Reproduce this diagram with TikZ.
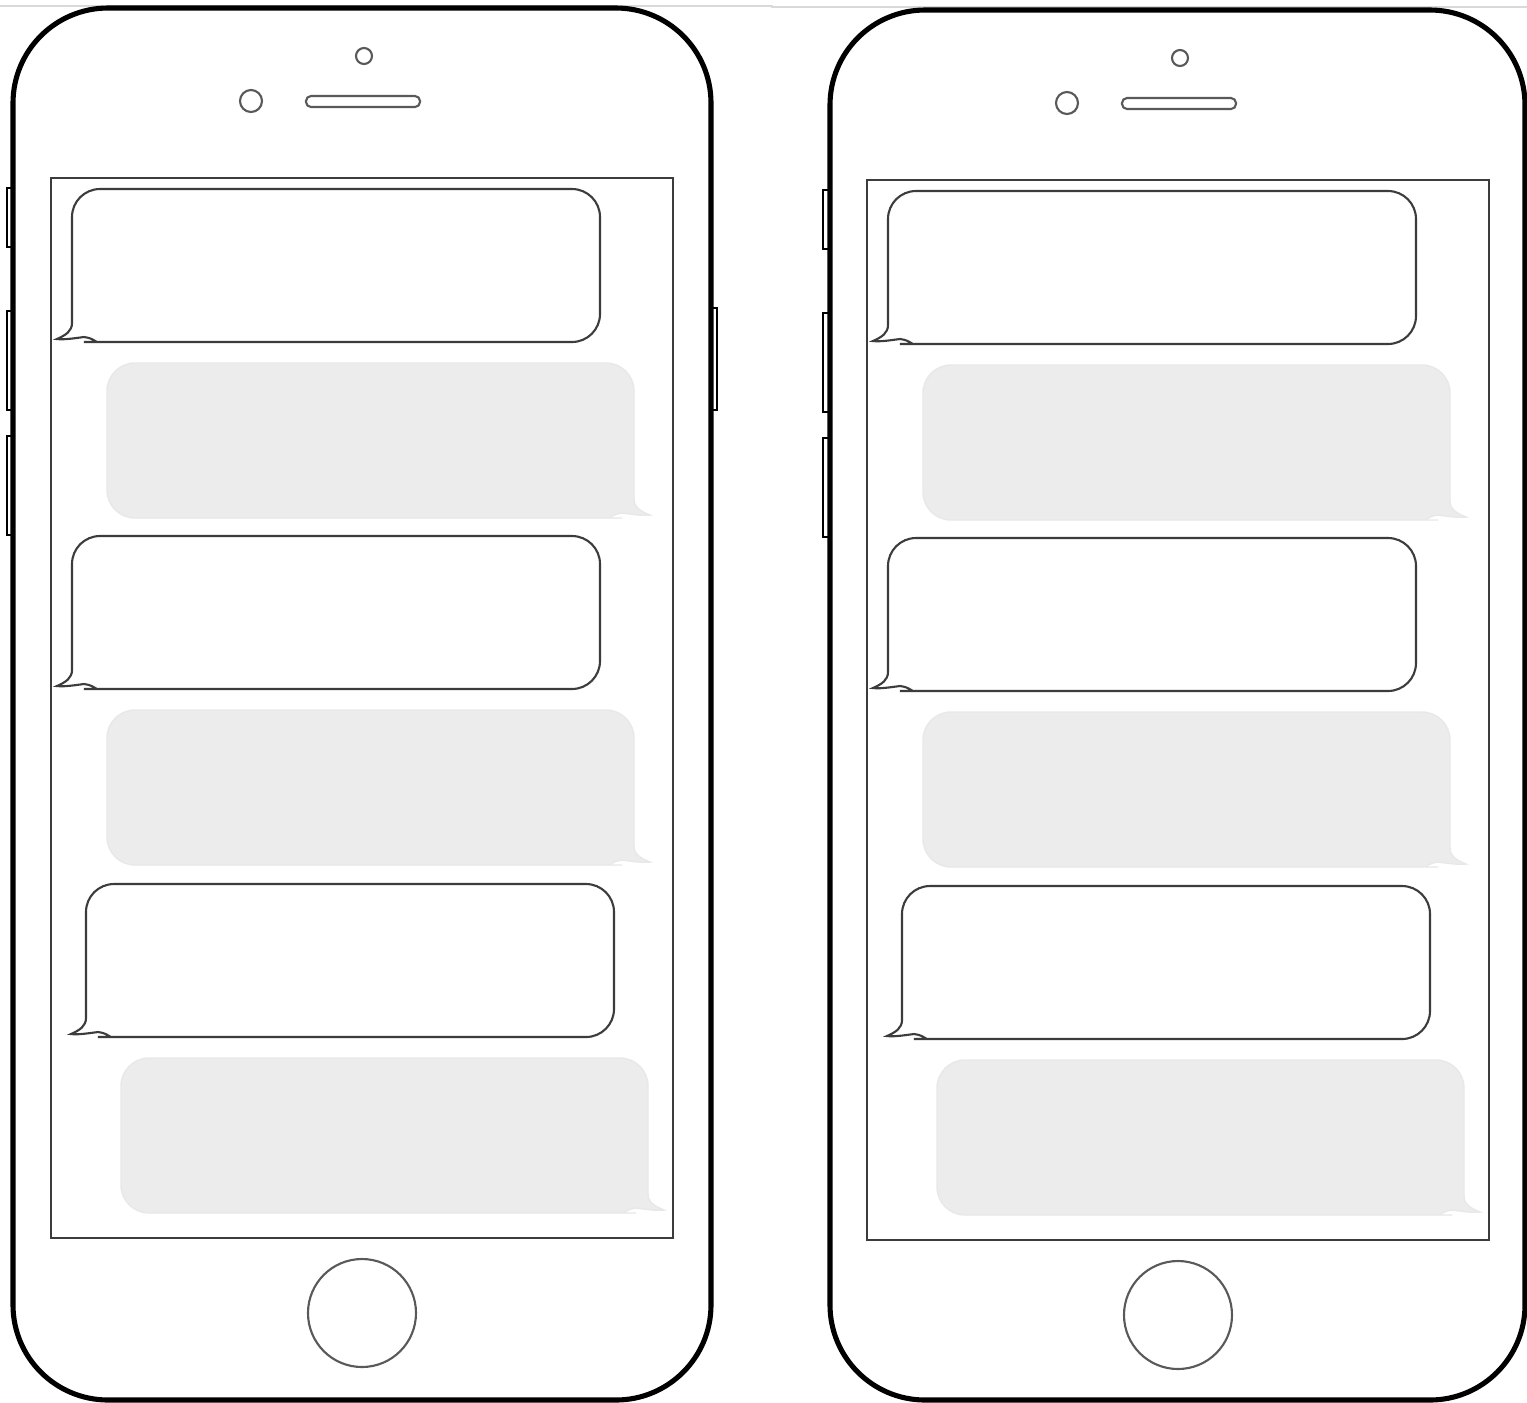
\documentclass[tikz,border=0pt]{standalone}
\usepackage{xcolor}
\usepackage{tikz}
\usetikzlibrary{positioning, calc}

\definecolor{bubblegray}{RGB}{236,236,236}
\definecolor{edgegray}{RGB}{60,60,60}

% incoming message (white, tail on the left), top-left corner at #1,#2
\newcommand{\inmsg}[2]{%
  \begin{scope}[shift={(#1,#2)}]
    \draw[inbubble] (0,134) [rounded corners=0.28cm] -- (0,0) -- (528,0) -- (528,153) -- (45,153) -- (40,153)
      [sharp corners] -- (25,153) .. controls (18,149) .. (12,148)
      .. controls (4,149) and (-8,151) .. (-15,150)
      .. controls (-6,146) and (0,142) .. (0,134) -- cycle;
  \end{scope}}
% outgoing message (grey, tail on the right)
\newcommand{\outmsg}[2]{%
  \begin{scope}[shift={(#1,#2)}]
    \draw[outbubble] (527,136) [rounded corners=0.28cm] -- (527,0) -- (0,0) -- (0,155) -- (482,155) -- (487,155)
      [sharp corners] -- (502,155) .. controls (509,151) .. (515,150)
      .. controls (523,151) and (535,153) .. (543,152)
      .. controls (533,148) and (527,144) .. (527,136) -- cycle;
  \end{scope}}

\begin{document}
\begin{tikzpicture}[x=0.01cm, y=-0.01cm,
  body/.style={draw=black, line width=1.45pt, rounded corners=0.95cm, fill=white},
  sidekey/.style={draw=black, line width=0.6pt, fill=white},
  screen/.style={draw=edgegray, line width=0.8pt},
  lens/.style={draw=edgegray!85, line width=0.6pt},
  inbubble/.style={draw=edgegray, line width=0.6pt, fill=white},
  outbubble/.style={draw=black!9, line width=0.4pt, fill=bubblegray}]

\useasboundingbox[fill=white] (0,0) rectangle (1527,1402);

% rule at the top
\draw[black!15, line width=0.5pt] (0,6) -- (772,6) -- (772,7) -- (1527,7);

% left phone
\begin{scope}
\draw[sidekey] (7,188) rectangle (14,247);
\draw[sidekey] (7,311) rectangle (14,410);
\draw[sidekey] (7,436) rectangle (14,535);
\draw[sidekey] (710,308) rectangle (717,410);
\draw[body] (13,8) rectangle (711,1400);

\draw[lens] (364,56) circle[radius=8];
\draw[lens] (251,101) circle[radius=11];
\draw[lens, rounded corners=0.05cm] (306,96) rectangle (420,107);
\draw[screen] (51,178) rectangle (673,1238);
\draw[lens] (362,1313) circle[radius=54];

\inmsg{72}{189}
\outmsg{107}{363}
\inmsg{72}{536}
\outmsg{107}{710}
\inmsg{86}{884}
\outmsg{121}{1058}
\end{scope}

% right phone
\begin{scope}[shift={(816,2)}]
\draw[sidekey] (7,188) rectangle (14,247);
\draw[sidekey] (7,311) rectangle (14,410);
\draw[sidekey] (7,436) rectangle (14,535);
\draw[body] (14,8) rectangle (709,1398);

\draw[lens] (364,56) circle[radius=8];
\draw[lens] (251,101) circle[radius=11];
\draw[lens, rounded corners=0.05cm] (306,96) rectangle (420,107);
\draw[screen] (51,178) rectangle (673,1238);
\draw[lens] (362,1313) circle[radius=54];

\inmsg{72}{189}
\outmsg{107}{363}
\inmsg{72}{536}
\outmsg{107}{710}
\inmsg{86}{884}
\outmsg{121}{1058}
\end{scope}

\end{tikzpicture}
\end{document}
